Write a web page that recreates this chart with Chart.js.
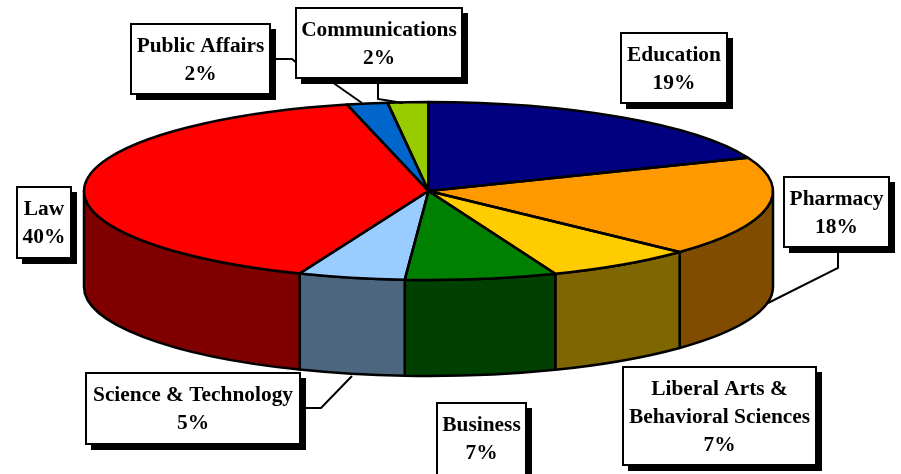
<!DOCTYPE html>
<html>
<head>
<meta charset="utf-8">
<title>Pie</title>
<script src="https://cdn.jsdelivr.net/npm/chart.js@4"></script>
<style>
  html, body { margin: 0; padding: 0; background: #fff; overflow: hidden; }
  canvas { display: block; }
</style>
</head>
<body>
<canvas id="chart-pie" width="901" height="474"></canvas>
<script>
const categories = ['Education', 'Pharmacy', 'Liberal Arts &\nBehavioral Sciences', 'Business', 'Science & Technology', 'Law', 'Public Affairs', 'Communications'];
// slice sizes, the labels show them rounded
const shares = [18.9, 18.1, 7, 7.1, 5, 40.1, 1.9, 1.9];
const topColors = ['#000080', '#FF9900', '#FFCC00', '#008000', '#99CCFF', '#FF0000', '#0066CC', '#99CC00'];
const wallColors = ['#000040', '#804D00', '#806600', '#004000', '#4D6680', '#800000', '#003366', '#4D6600'];

// label boxes, same order as categories: left, top, right, bottom
const boxes = [
  [621, 33, 727, 103],
  [784, 177, 889, 247],
  [623, 367, 816, 465],
  [437, 403, 526, 478],
  [86, 373, 300, 444],
  [17, 187, 71, 258],
  [131, 24, 270, 94],
  [296, 8, 462, 78]
];

const leaders = [
  [[838, 250], [838, 268], [768, 303]],
  [[300, 408], [321, 408], [352, 376]],
  [[270, 59], [292, 59], [298, 64]],
  [[332, 82], [362, 103]],
  [[378, 82], [378, 99], [403, 103]]
];

const pieShape = { rx: 344.5, ry: 89, depth: 96 };

function arcsOf(chart) {
  return chart.getDatasetMeta(0).data;
}

const pie3d = {
  id: 'pie3d',
  beforeDatasetsDraw(chart) {
    const ctx = chart.ctx;
    const { rx, ry, depth } = pieShape;
    ctx.save();
    ctx.lineWidth = 2.5;
    ctx.strokeStyle = '#000';
    ctx.lineJoin = 'round';
    arcsOf(chart).forEach((arc, i) => {
      const from = Math.max(arc.startAngle, 0);
      const to = Math.min(arc.endAngle, Math.PI);
      if (to <= from) return;
      ctx.beginPath();
      ctx.ellipse(arc.x, arc.y, rx, ry, 0, from, to);
      ctx.ellipse(arc.x, arc.y + depth, rx, ry, 0, to, from, true);
      ctx.closePath();
      ctx.fillStyle = wallColors[i];
      ctx.fill();
      ctx.stroke();
    });
    ctx.restore();

    // squash the round pie into the ellipse
    const first = arcsOf(chart)[0];
    ctx.save();
    ctx.translate(first.x, first.y);
    ctx.scale(rx / first.outerRadius, ry / first.outerRadius);
    ctx.translate(-first.x, -first.y);
  },
  afterDatasetsDraw(chart) {
    const ctx = chart.ctx;
    const { rx, ry } = pieShape;
    ctx.restore();
    ctx.save();
    ctx.lineWidth = 2.5;
    ctx.strokeStyle = '#000';
    ctx.lineJoin = 'round';
    arcsOf(chart).forEach(arc => {
      ctx.beginPath();
      ctx.moveTo(arc.x, arc.y);
      ctx.ellipse(arc.x, arc.y, rx, ry, 0, arc.startAngle, arc.endAngle);
      ctx.closePath();
      ctx.stroke();
    });
    ctx.restore();
  },
  afterDraw(chart) {
    const ctx = chart.ctx;
    ctx.save();
    ctx.lineWidth = 2;
    ctx.strokeStyle = '#000';
    leaders.forEach(pts => {
      ctx.beginPath();
      pts.forEach((p, i) => i ? ctx.lineTo(p[0], p[1]) : ctx.moveTo(p[0], p[1]));
      ctx.stroke();
    });
    ctx.font = 'bold 21.4px "Liberation Serif"';
    ctx.textAlign = 'center';
    ctx.textBaseline = 'middle';
    boxes.forEach((b, i) => {
      const w = b[2] - b[0], h = b[3] - b[1];
      ctx.fillStyle = '#000';
      ctx.fillRect(b[0] + 5, b[1] + 5, w + 1, h + 1);
      ctx.fillStyle = '#fff';
      ctx.fillRect(b[0], b[1], w, h);
      ctx.strokeRect(b[0], b[1], w, h);
      const lines = categories[i].split('\n').concat(Math.round(shares[i]) + '%');
      const cx = (b[0] + b[2]) / 2;
      const cy = (i === 3 ? 438.5 : (b[1] + b[3]) / 2) + 1;
      ctx.fillStyle = '#000';
      lines.forEach((line, k) => {
        ctx.fillText(line, cx, cy + (k - (lines.length - 1) / 2) * 28);
      });
    });
    ctx.restore();
  }
};

const chartPie = new Chart(document.getElementById('chart-pie'), {
  type: 'pie',
  data: {
    labels: categories,
    datasets: [{
      data: shares,
      backgroundColor: topColors,
      borderWidth: 0,
      clip: false
    }]
  },
  options: {
    responsive: false,
    animation: false,
    layout: { padding: { right: 44, bottom: 92 } },
    plugins: {
      legend: { display: false },
      tooltip: { enabled: false }
    }
  },
  plugins: [pie3d]
});
</script>
</body>
</html>
